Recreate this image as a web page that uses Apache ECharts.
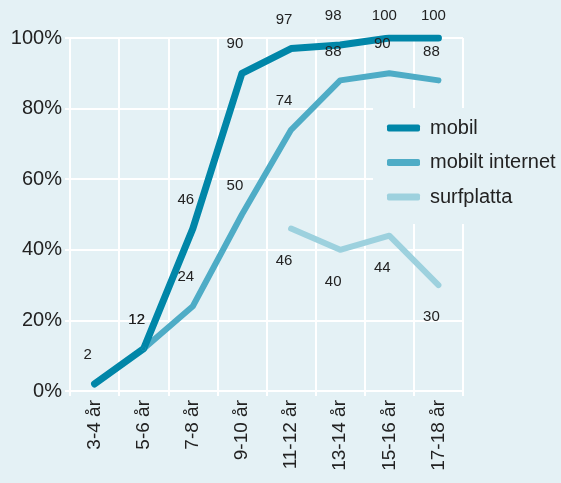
<!DOCTYPE html>
<html>
<head>
<meta charset="utf-8">
<script src="https://cdn.jsdelivr.net/npm/echarts@6/dist/echarts.min.js"></script>
<style>
  html, body { margin: 0; padding: 0; background: #e4f1f5; }
  #chart { width: 561px; height: 483px; }
</style>
</head>
<body>
<div id="chart"></div>
<script>
const categories = ['3-4 år', '5-6 år', '7-8 år', '9-10 år', '11-12 år', '13-14 år', '15-16 år', '17-18 år']
const mobil = [2, 12, 46, 90, 97, 98, 100, 100]
const mobiltInternet = [null, 12, 24, 50, 74, 88, 90, 88]
const surfplatta = [null, null, null, null, 46, 40, 44, 30]

const colors = ['#0086a8', '#4eacc6', '#9dd1de']
const textColor = '#222'
const font = 'Liberation Sans, Arial, sans-serif'

function makeSeries(name, data, color, width, below) {
  // labels at the very top sit a bit closer to the line so they stay inside the picture
  const items = data.map(v => (v === 100 ? { value: v, label: { offset: [-5, -22] } } : v))
  return {
    name: name,
    type: 'line',
    data: items,
    symbol: 'circle',
    symbolSize: 4,
    itemStyle: { color: color },
    lineStyle: { color: color, width: width, cap: 'round', join: 'round' },
    label: {
      show: true,
      position: 'inside',
      offset: below ? [-7, 32] : [-7, -29],
      color: textColor,
      fontSize: 15,
      fontFamily: font
    },
    emphasis: { disabled: true },
    z: 3
  }
}

const chart = echarts.init(document.getElementById('chart'), null, { renderer: 'canvas' })

const option = {
  backgroundColor: '#e4f1f5',
  animation: false,
  grid: { left: 70, right: 98, top: 38, bottom: 92 },
  legend: {
    orient: 'vertical',
    left: 373,
    top: 108,
    backgroundColor: '#e4f1f5',
    padding: [10, 10, 17, 14],
    itemGap: 14.5,
    itemWidth: 33,
    itemHeight: 7,
    icon: 'roundRect',
    textStyle: { color: textColor, fontSize: 20, fontFamily: font, padding: [0, 0, 0, 5] },
    data: ['mobil', 'mobilt internet', 'surfplatta']
  },
  xAxis: {
    type: 'category',
    data: categories,
    boundaryGap: true,
    axisLine: { show: true, lineStyle: { color: '#fff', width: 2 } },
    axisTick: { show: true, length: 5, lineStyle: { color: '#fff', width: 2 } },
    splitLine: { show: true, lineStyle: { color: '#fff', width: 2 } },
    axisLabel: {
      rotate: 90,
      margin: 9,
      color: textColor,
      fontSize: 19,
      fontFamily: font
    }
  },
  yAxis: {
    type: 'value',
    min: 0,
    max: 100,
    interval: 20,
    axisLine: { show: true, lineStyle: { color: '#fff', width: 2 } },
    axisTick: { show: true, length: 5, lineStyle: { color: '#fff', width: 2 } },
    splitLine: { show: true, lineStyle: { color: '#fff', width: 2 } },
    axisLabel: {
      formatter: '{value}%',
      margin: 8,
      color: textColor,
      fontSize: 20,
      fontFamily: font
    }
  },
  series: [
    makeSeries('surfplatta', surfplatta, colors[2], 6, true),
    makeSeries('mobilt internet', mobiltInternet, colors[1], 6, false),
    makeSeries('mobil', mobil, colors[0], 7, false)
  ]
}

chart.setOption(option)
window.addEventListener('resize', chart.resize)
</script>
</body>
</html>
